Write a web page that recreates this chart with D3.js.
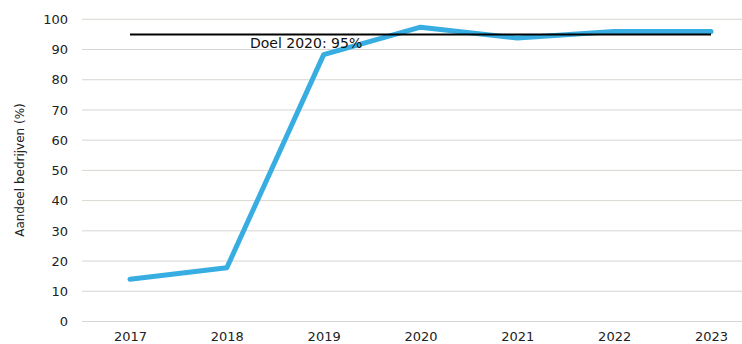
<!DOCTYPE html>
<html><head><meta charset="utf-8">
<script src="https://cdn.jsdelivr.net/npm/d3@7"></script>
<style>body{margin:0;background:#fff}svg{display:block}text{font-family:"DejaVu Sans",Verdana,sans-serif}</style>
</head><body><svg id="c" width="742" height="344"></svg>
<script>
const years = ["2017","2018","2019","2020","2021","2022","2023"];
const shares = [14, 17.8, 88.3, 97.4, 93.8, 96, 96];
const targetValue = 95;
const targetLabel = "Doel 2020: 95%";
const yTicks = [0,10,20,30,40,50,60,70,80,90,100];
const yTitle = "Aandeel bedrijven (%)";

const svg = d3.select("#c");
const x = d3.scalePoint().domain(years).range([130, 711]);
const y = d3.scaleLinear().domain([0,100]).range([321.5, 19.3]);

// grid
svg.append("g").selectAll("line").data(yTicks).join("line")
  .attr("x1",82).attr("x2",742).attr("y1",d=>y(d)).attr("y2",d=>y(d))
  .attr("stroke","#d9d5d0").attr("stroke-width",1);

// y axis labels
const ya = svg.append("g").attr("transform","translate(82,0)")
  .call(d3.axisLeft(y).tickValues(yTicks).tickSize(0).tickPadding(14));
ya.select(".domain").remove();
ya.selectAll("text").attr("font-size",13).attr("fill","#222").style("font-family","DejaVu Sans, Verdana, sans-serif");

// x axis labels
const xa = svg.append("g").attr("transform","translate(0,321.5)")
  .call(d3.axisBottom(x).tickSize(0).tickPadding(10));
xa.select(".domain").remove();
xa.selectAll("text").attr("font-size",13).attr("fill","#222").style("font-family","DejaVu Sans, Verdana, sans-serif");

// y title
svg.append("text").attr("transform","translate(24,170) rotate(-90)")
  .attr("text-anchor","middle").attr("font-size",12).attr("fill","#222").text(yTitle);

// series line
svg.append("path").datum(shares)
  .attr("d", d3.line().x((d,i)=>x(years[i])).y(d=>y(d)))
  .attr("fill","none").attr("stroke","#38ade2").attr("stroke-width",5)
  .attr("stroke-linejoin","round").attr("stroke-linecap","round");

// target line
svg.append("line").attr("x1",x(years[0])).attr("x2",x(years[years.length-1]))
  .attr("y1",y(targetValue)).attr("y2",y(targetValue))
  .attr("stroke","#000").attr("stroke-width",2);

svg.append("text").attr("x",250).attr("y",y(targetValue)+14)
  .attr("font-size",14).attr("fill","#111").text(targetLabel);
</script></body></html>
